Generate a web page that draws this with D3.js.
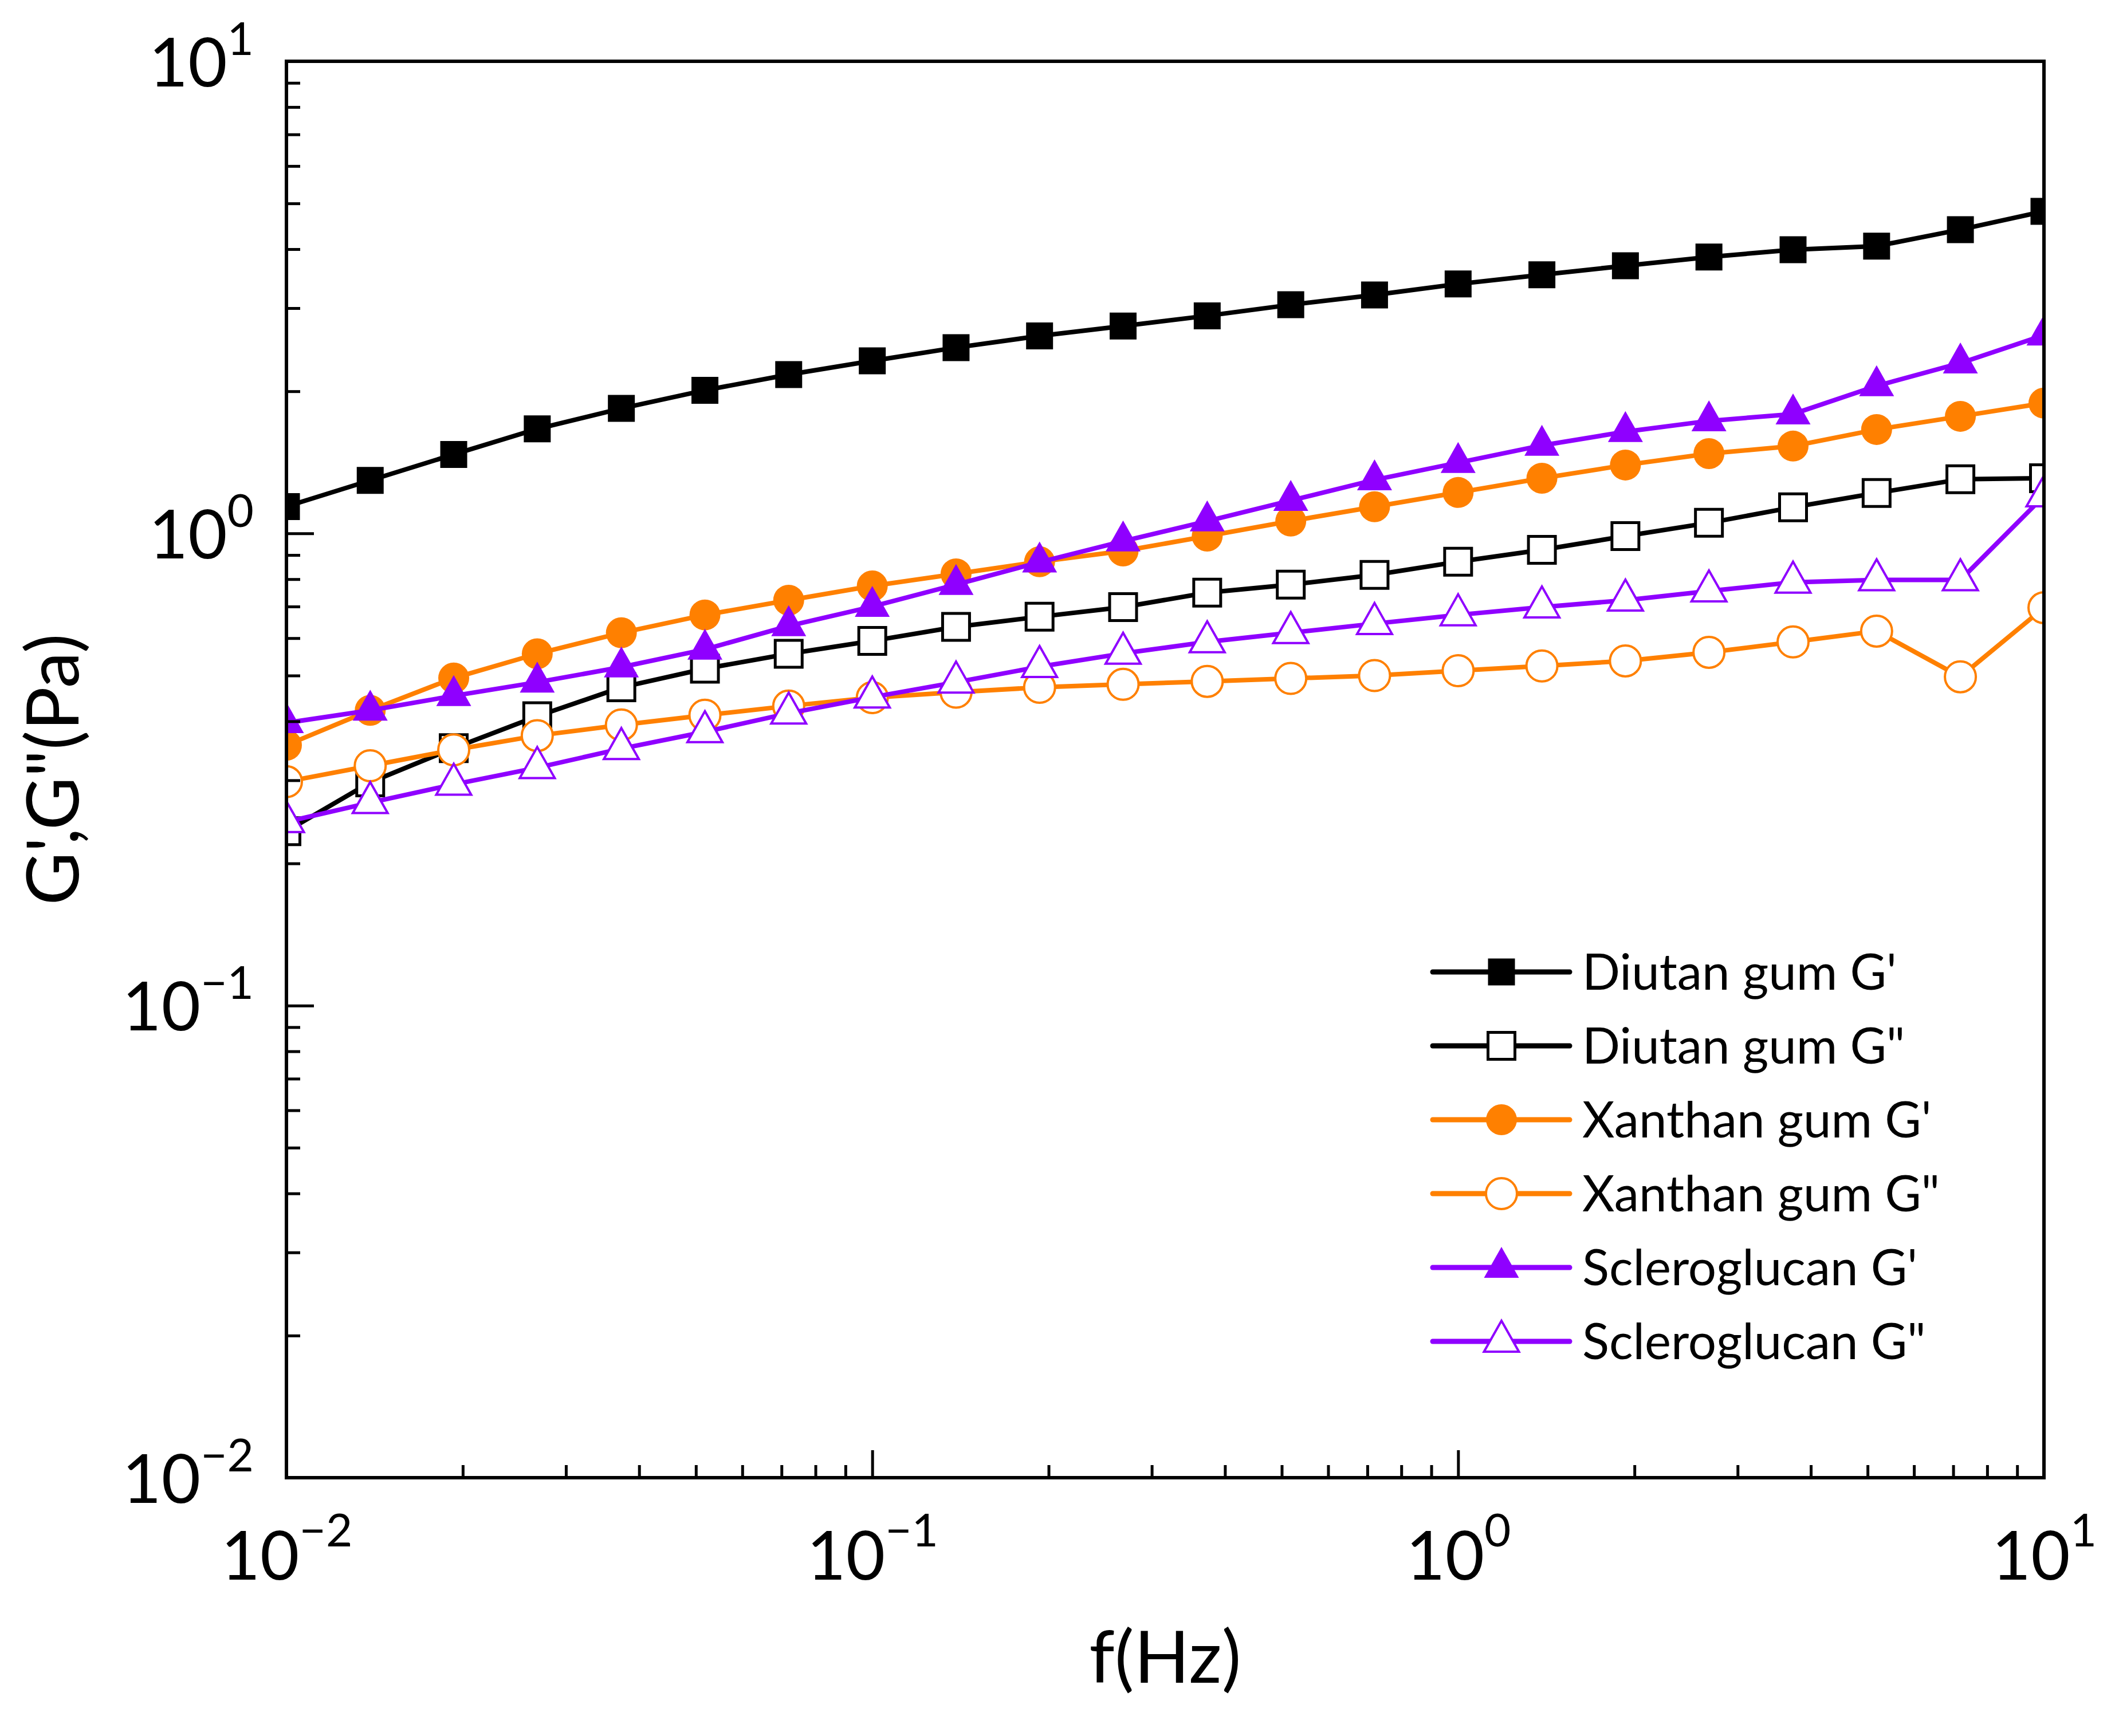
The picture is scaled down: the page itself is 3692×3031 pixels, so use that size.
<!DOCTYPE html>
<html><head><meta charset="utf-8">
<script src="https://cdn.jsdelivr.net/npm/d3@7"></script>
<style>
body{margin:0;background:#fff}
text{font-family:Lato,"Open Sans",sans-serif;fill:#000}
</style>
</head><body>
<svg id="c" width="3692" height="3031"></svg>
<script>
// ---- data ----
const freq = [0.01, 0.0139, 0.0193, 0.0268, 0.0373, 0.0518, 0.0720, 0.100, 0.139, 0.193, 0.268,
              0.373, 0.518, 0.720, 1.00, 1.39, 1.93, 2.68, 3.73, 5.18, 7.20, 10.0];
const diutanG1   = [1.14, 1.295, 1.47, 1.665, 1.84, 2.01, 2.17, 2.32, 2.475, 2.62, 2.75, 2.89, 3.05, 3.20, 3.375, 3.53, 3.69, 3.85, 3.99, 4.06, 4.40, 4.81];
const diutanG2   = [0.234, 0.297, 0.351, 0.410, 0.472, 0.517, 0.556, 0.592, 0.634, 0.666, 0.698, 0.749, 0.779, 0.817, 0.871, 0.923, 0.987, 1.053, 1.136, 1.218, 1.302, 1.309];
const xanthanG1  = [0.356, 0.422, 0.494, 0.556, 0.616, 0.672, 0.722, 0.774, 0.821, 0.871, 0.918, 0.987, 1.062, 1.139, 1.221, 1.309, 1.396, 1.476, 1.531, 1.66, 1.77, 1.888];
const xanthanG2  = [0.298, 0.322, 0.348, 0.373, 0.393, 0.412, 0.431, 0.449, 0.461, 0.472, 0.479, 0.486, 0.493, 0.500, 0.512, 0.524, 0.537, 0.560, 0.589, 0.621, 0.497, 0.696];
const scleroG1   = [0.397, 0.422, 0.453, 0.484, 0.521, 0.568, 0.637, 0.700, 0.779, 0.869, 0.963, 1.062, 1.174, 1.298, 1.412, 1.536, 1.642, 1.731, 1.79, 2.053, 2.295, 2.63];
const scleroG2   = [0.245, 0.269, 0.294, 0.319, 0.350, 0.380, 0.416, 0.450, 0.484, 0.522, 0.557, 0.589, 0.616, 0.644, 0.672, 0.698, 0.722, 0.755, 0.788, 0.797, 0.797, 1.20];
const seriesNames = ["Diutan gum G'", 'Diutan gum G"', "Xanthan gum G'", 'Xanthan gum G"', "Scleroglucan G'", 'Scleroglucan G"'];
const seriesValues = [diutanG1, diutanG2, xanthanG1, xanthanG2, scleroG1, scleroG2];
const seriesColors = ["#000000", "#000000", "#FF8000", "#FF8000", "#8F00FF", "#8F00FF"];
const seriesSymbols = ["square", "square", "circle", "circle", "triangle", "triangle"];
const seriesFilled = [true, false, true, false, true, false];
const majorTicks = [0.01, 0.1, 1, 10];
const majorExp = ["−2", "−1", "0", "1"];
const xTitle = "f(Hz)";
const yTitle = 'G\',G"(Pa)';

// ---- layout ----
const svg = d3.select("#c");
const L = 500, R = 3568, T = 107, B = 2580;
const x = d3.scaleLog().domain([0.01, 10]).range([L, R]);
const y = d3.scaleLog().domain([0.01, 10]).range([B, T]);
const minorTicks = [];
[0.01, 0.1, 1].forEach(d => { for (let k = 2; k <= 9; k++) minorTicks.push(d * k); });

function symbolPath(type) {
  if (type === "square") { const s = 23.5; return `M${-s},${-s}H${s}V${s}H${-s}Z`; }
  if (type === "circle") { const r = 27; return `M${r},0A${r},${r} 0 1,1 ${-r},0A${r},${r} 0 1,1 ${r},0Z`; }
  const w = 30.5, h = 54; return `M0,${-2*h/3}L${w},${h/3}L${-w},${h/3}Z`;
}

// clip
svg.append("defs").append("clipPath").attr("id", "clip")
  .append("rect").attr("x", L).attr("y", T).attr("width", R - L).attr("height", B - T);

const plot = svg.append("g").attr("clip-path", "url(#clip)");
const line = d3.line().x((d, i) => x(freq[i])).y(d => y(d));

seriesValues.forEach((vals, si) => {
  const g = plot.append("g");
  g.append("path").datum(vals).attr("d", line).attr("fill", "none")
    .attr("stroke", seriesColors[si]).attr("stroke-width", 8).attr("stroke-linejoin", "round");
  g.selectAll("path.m").data(vals).join("path").attr("class", "m")
    .attr("d", symbolPath(seriesSymbols[si]))
    .attr("transform", (d, i) => `translate(${x(freq[i])},${y(d)})`)
    .attr("fill", seriesFilled[si] ? seriesColors[si] : "#fff")
    .attr("stroke", seriesFilled[si] ? "none" : seriesColors[si])
    .attr("stroke-width", seriesSymbols[si] === "square" ? 5 : 4);
});

// axes ticks
function styleAxis(g) {
  g.select(".domain").remove();
  g.selectAll(".tick line").attr("stroke", "#000").attr("stroke-width", 5);
}
svg.append("g").attr("transform", `translate(0,${B})`)
  .call(d3.axisBottom(x).tickValues(minorTicks).tickSizeInner(-22).tickSizeOuter(0).tickFormat(""))
  .call(styleAxis);
svg.append("g").attr("transform", `translate(${L},0)`)
  .call(d3.axisLeft(y).tickValues(minorTicks).tickSizeInner(-24).tickSizeOuter(0).tickFormat(""))
  .call(styleAxis);

const xMaj = svg.append("g").attr("transform", `translate(0,${B})`)
  .call(d3.axisBottom(x).tickValues(majorTicks).tickSizeInner(-48).tickSizeOuter(0).tickFormat(""))
  .call(styleAxis);
xMaj.selectAll(".tick text").each(function (d, i) {
  const t = d3.select(this).attr("y", 178).attr("dy", 0).attr("font-size", 118)
    .attr("text-anchor", "middle").attr("fill", "#000").text(null);
  t.append("tspan").text("10");
  t.append("tspan").attr("dy", -58).attr("font-size", 80).text(majorExp[i]);
});
const yMaj = svg.append("g").attr("transform", `translate(${L},0)`)
  .call(d3.axisLeft(y).tickValues(majorTicks).tickSizeInner(-48).tickSizeOuter(0).tickFormat(""))
  .call(styleAxis);
yMaj.selectAll(".tick text").each(function (d, i) {
  const t = d3.select(this).attr("x", -57).attr("y", 43).attr("dy", 0).attr("font-size", 118)
    .attr("text-anchor", "end").attr("fill", "#000").text(null);
  t.append("tspan").text("10");
  t.append("tspan").attr("dy", -55).attr("font-size", 80).text(majorExp[i]);
});

// frame
svg.append("rect").attr("x", L).attr("y", T).attr("width", R - L).attr("height", B - T)
  .attr("fill", "none").attr("stroke", "#000").attr("stroke-width", 6);

// titles
svg.append("text").attr("x", (L + R) / 2).attr("y", 2938).attr("text-anchor", "middle")
  .attr("font-size", 127).text(xTitle);
svg.append("text").attr("transform", `translate(137,${(T + B) / 2}) rotate(-90)`)
  .attr("text-anchor", "middle").attr("font-size", 127).text(yTitle);

// legend
const leg = svg.append("g");
const legTop = 1697, legStep = 129;
seriesNames.forEach((name, si) => {
  const cy = legTop + si * legStep;
  leg.append("line").attr("x1", 2501).attr("x2", 2740).attr("y1", cy).attr("y2", cy)
    .attr("stroke", seriesColors[si]).attr("stroke-width", 9).attr("stroke-linecap", "round");
  leg.append("path").attr("d", symbolPath(seriesSymbols[si]))
    .attr("transform", `translate(2621,${cy})`)
    .attr("fill", seriesFilled[si] ? seriesColors[si] : "#fff")
    .attr("stroke", seriesFilled[si] ? "none" : seriesColors[si])
    .attr("stroke-width", seriesSymbols[si] === "square" ? 5 : 4);
  leg.append("text").attr("x", 2762).attr("y", cy + 31).attr("font-size", 87).text(name);
});
</script>
</body></html>
